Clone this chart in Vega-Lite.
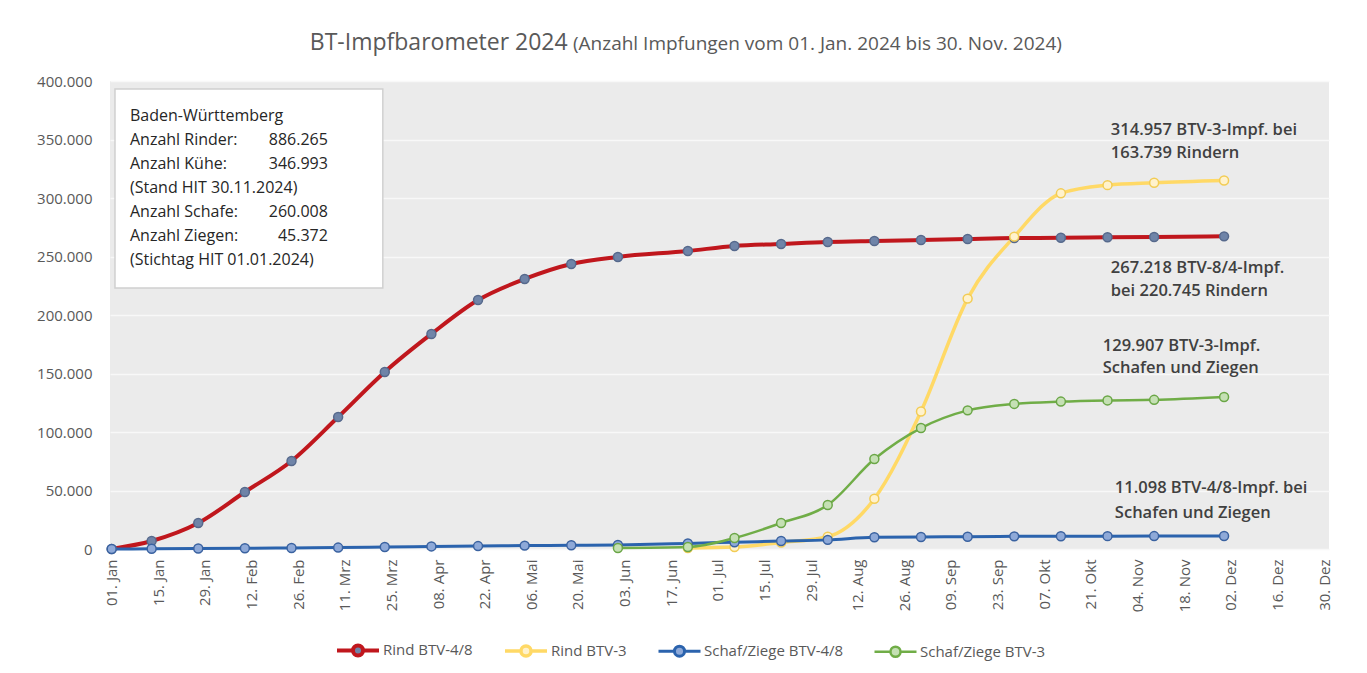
{
  "$schema": "https://vega.github.io/schema/vega-lite/v6.json",
  "width": 1219,
  "height": 468,
  "autosize": {"type": "none"},
  "padding": {"left": 110, "top": 81, "right": 38, "bottom": 124},
  "background": "white",
  "config": {
    "view": {"fill": "#ebebeb", "stroke": null},
    "font": "Open Sans"
  },
  "datasets": {
    "series": [
      {"series": "Rind BTV-4/8", "date": "2024-01-01", "value": 0},
      {"series": "Rind BTV-4/8", "date": "2024-01-13", "value": 6800},
      {"series": "Rind BTV-4/8", "date": "2024-01-27", "value": 22200},
      {"series": "Rind BTV-4/8", "date": "2024-02-10", "value": 48700},
      {"series": "Rind BTV-4/8", "date": "2024-02-24", "value": 75200},
      {"series": "Rind BTV-4/8", "date": "2024-03-09", "value": 112800},
      {"series": "Rind BTV-4/8", "date": "2024-03-23", "value": 151300},
      {"series": "Rind BTV-4/8", "date": "2024-04-06", "value": 183800},
      {"series": "Rind BTV-4/8", "date": "2024-04-20", "value": 212800},
      {"series": "Rind BTV-4/8", "date": "2024-05-04", "value": 230800},
      {"series": "Rind BTV-4/8", "date": "2024-05-18", "value": 243600},
      {"series": "Rind BTV-4/8", "date": "2024-06-01", "value": 249600},
      {"series": "Rind BTV-4/8", "date": "2024-06-22", "value": 254700},
      {"series": "Rind BTV-4/8", "date": "2024-07-06", "value": 259000},
      {"series": "Rind BTV-4/8", "date": "2024-07-20", "value": 260700},
      {"series": "Rind BTV-4/8", "date": "2024-08-03", "value": 262400},
      {"series": "Rind BTV-4/8", "date": "2024-08-17", "value": 263300},
      {"series": "Rind BTV-4/8", "date": "2024-08-31", "value": 264100},
      {"series": "Rind BTV-4/8", "date": "2024-09-14", "value": 265000},
      {"series": "Rind BTV-4/8", "date": "2024-09-28", "value": 265800},
      {"series": "Rind BTV-4/8", "date": "2024-10-12", "value": 266000},
      {"series": "Rind BTV-4/8", "date": "2024-10-26", "value": 266500},
      {"series": "Rind BTV-4/8", "date": "2024-11-09", "value": 266700},
      {"series": "Rind BTV-4/8", "date": "2024-11-30", "value": 267218},
      {"series": "Rind BTV-3", "date": "2024-06-22", "value": 800},
      {"series": "Rind BTV-3", "date": "2024-07-06", "value": 1700},
      {"series": "Rind BTV-3", "date": "2024-07-20", "value": 5500},
      {"series": "Rind BTV-3", "date": "2024-08-03", "value": 10500},
      {"series": "Rind BTV-3", "date": "2024-08-17", "value": 43000},
      {"series": "Rind BTV-3", "date": "2024-08-31", "value": 117500},
      {"series": "Rind BTV-3", "date": "2024-09-14", "value": 214000},
      {"series": "Rind BTV-3", "date": "2024-09-28", "value": 267000},
      {"series": "Rind BTV-3", "date": "2024-10-12", "value": 304000},
      {"series": "Rind BTV-3", "date": "2024-10-26", "value": 311000},
      {"series": "Rind BTV-3", "date": "2024-11-09", "value": 313000},
      {"series": "Rind BTV-3", "date": "2024-11-30", "value": 314957},
      {"series": "Schaf/Ziege BTV-4/8", "date": "2024-01-01", "value": 0},
      {"series": "Schaf/Ziege BTV-4/8", "date": "2024-01-13", "value": 200},
      {"series": "Schaf/Ziege BTV-4/8", "date": "2024-01-27", "value": 400},
      {"series": "Schaf/Ziege BTV-4/8", "date": "2024-02-10", "value": 600},
      {"series": "Schaf/Ziege BTV-4/8", "date": "2024-02-24", "value": 900},
      {"series": "Schaf/Ziege BTV-4/8", "date": "2024-03-09", "value": 1200},
      {"series": "Schaf/Ziege BTV-4/8", "date": "2024-03-23", "value": 1700},
      {"series": "Schaf/Ziege BTV-4/8", "date": "2024-04-06", "value": 2200},
      {"series": "Schaf/Ziege BTV-4/8", "date": "2024-04-20", "value": 2500},
      {"series": "Schaf/Ziege BTV-4/8", "date": "2024-05-04", "value": 2900},
      {"series": "Schaf/Ziege BTV-4/8", "date": "2024-05-18", "value": 3200},
      {"series": "Schaf/Ziege BTV-4/8", "date": "2024-06-01", "value": 3500},
      {"series": "Schaf/Ziege BTV-4/8", "date": "2024-06-22", "value": 4800},
      {"series": "Schaf/Ziege BTV-4/8", "date": "2024-07-06", "value": 5800},
      {"series": "Schaf/Ziege BTV-4/8", "date": "2024-07-20", "value": 6800},
      {"series": "Schaf/Ziege BTV-4/8", "date": "2024-08-03", "value": 7800},
      {"series": "Schaf/Ziege BTV-4/8", "date": "2024-08-17", "value": 10000},
      {"series": "Schaf/Ziege BTV-4/8", "date": "2024-08-31", "value": 10300},
      {"series": "Schaf/Ziege BTV-4/8", "date": "2024-09-14", "value": 10500},
      {"series": "Schaf/Ziege BTV-4/8", "date": "2024-09-28", "value": 10800},
      {"series": "Schaf/Ziege BTV-4/8", "date": "2024-10-12", "value": 10900},
      {"series": "Schaf/Ziege BTV-4/8", "date": "2024-10-26", "value": 11000},
      {"series": "Schaf/Ziege BTV-4/8", "date": "2024-11-09", "value": 11050},
      {"series": "Schaf/Ziege BTV-4/8", "date": "2024-11-30", "value": 11098},
      {"series": "Schaf/Ziege BTV-3", "date": "2024-06-01", "value": 900},
      {"series": "Schaf/Ziege BTV-3", "date": "2024-06-22", "value": 1700},
      {"series": "Schaf/Ziege BTV-3", "date": "2024-07-06", "value": 9400},
      {"series": "Schaf/Ziege BTV-3", "date": "2024-07-20", "value": 22200},
      {"series": "Schaf/Ziege BTV-3", "date": "2024-08-03", "value": 37600},
      {"series": "Schaf/Ziege BTV-3", "date": "2024-08-17", "value": 76900},
      {"series": "Schaf/Ziege BTV-3", "date": "2024-08-31", "value": 103400},
      {"series": "Schaf/Ziege BTV-3", "date": "2024-09-14", "value": 118500},
      {"series": "Schaf/Ziege BTV-3", "date": "2024-09-28", "value": 124000},
      {"series": "Schaf/Ziege BTV-3", "date": "2024-10-12", "value": 126000},
      {"series": "Schaf/Ziege BTV-3", "date": "2024-10-26", "value": 127000},
      {"series": "Schaf/Ziege BTV-3", "date": "2024-11-09", "value": 127500},
      {"series": "Schaf/Ziege BTV-3", "date": "2024-11-30", "value": 129907}
    ],
    "box": [
      {"date": "2024-01-02T00:00:00Z", "date2": "2024-03-22T10:00:00Z", "value": 223000, "value2": 393200}
    ],
    "boxLabels": [
      {"date": "2024-01-06T12:00:00Z", "value": 370100, "text": "Baden-Württemberg"},
      {"date": "2024-01-06T12:00:00Z", "value": 349600, "text": "Anzahl Rinder:"},
      {"date": "2024-01-06T12:00:00Z", "value": 329100, "text": "Anzahl Kühe:"},
      {"date": "2024-01-06T12:00:00Z", "value": 308500, "text": "(Stand HIT 30.11.2024)"},
      {"date": "2024-01-06T12:00:00Z", "value": 288000, "text": "Anzahl Schafe:"},
      {"date": "2024-01-06T12:00:00Z", "value": 267500, "text": "Anzahl Ziegen:"},
      {"date": "2024-01-06T12:00:00Z", "value": 247000, "text": "(Stichtag HIT 01.01.2024)"}
    ],
    "boxValues": [
      {"date": "2024-03-05T22:00:00Z", "value": 349600, "text": "886.265"},
      {"date": "2024-03-05T22:00:00Z", "value": 329100, "text": "346.993"},
      {"date": "2024-03-05T22:00:00Z", "value": 288000, "text": "260.008"},
      {"date": "2024-03-05T22:00:00Z", "value": 267500, "text": "45.372"}
    ],
    "notes": [
      {"date": "2024-10-27T00:00:00Z", "value": 358100, "text": "314.957 BTV-3-Impf. bei"},
      {"date": "2024-10-27T00:00:00Z", "value": 338500, "text": "163.739 Rindern"},
      {"date": "2024-10-27T00:00:00Z", "value": 240200, "text": "267.218 BTV-8/4-Impf."},
      {"date": "2024-10-27T00:00:00Z", "value": 220500, "text": "bei 220.745 Rindern"},
      {"date": "2024-10-24T14:00:00Z", "value": 173100, "text": "129.907 BTV-3-Impf."},
      {"date": "2024-10-24T14:00:00Z", "value": 154700, "text": "Schafen und Ziegen"},
      {"date": "2024-10-28T05:00:00Z", "value": 52100, "text": "11.098 BTV-4/8-Impf. bei"},
      {"date": "2024-10-28T05:00:00Z", "value": 30800, "text": "Schafen und Ziegen"}
    ],
    "titleMain": [
      {"date": "2024-02-29T12:00:00Z", "value": 426500, "text": "BT-Impfbarometer 2024"}
    ],
    "titleSub": [
      {"date": "2024-05-18T12:00:00Z", "value": 426500, "text": "(Anzahl Impfungen vom 01. Jan. 2024 bis 30. Nov. 2024)"}
    ]
  },
  "layer": [
    {
      "data": {"name": "series"},
      "mark": {"type": "line", "interpolate": "monotone"},
      "encoding": {
        "x": {
          "field": "date", "type": "temporal", "title": null,
          "scale": {"type": "utc", "domain": [{"year": 2023, "month": 12, "date": 31, "hours": 12, "utc": true}, {"year": 2024, "month": 12, "date": 31, "hours": 12, "utc": true}], "nice": false},
          "axis": {
            "values": [
              {"year": 2024, "month": 1, "date": 1, "utc": true},
              {"year": 2024, "month": 1, "date": 15, "utc": true},
              {"year": 2024, "month": 1, "date": 29, "utc": true},
              {"year": 2024, "month": 2, "date": 12, "utc": true},
              {"year": 2024, "month": 2, "date": 26, "utc": true},
              {"year": 2024, "month": 3, "date": 11, "utc": true},
              {"year": 2024, "month": 3, "date": 25, "utc": true},
              {"year": 2024, "month": 4, "date": 8, "utc": true},
              {"year": 2024, "month": 4, "date": 22, "utc": true},
              {"year": 2024, "month": 5, "date": 6, "utc": true},
              {"year": 2024, "month": 5, "date": 20, "utc": true},
              {"year": 2024, "month": 6, "date": 3, "utc": true},
              {"year": 2024, "month": 6, "date": 17, "utc": true},
              {"year": 2024, "month": 7, "date": 1, "utc": true},
              {"year": 2024, "month": 7, "date": 15, "utc": true},
              {"year": 2024, "month": 7, "date": 29, "utc": true},
              {"year": 2024, "month": 8, "date": 12, "utc": true},
              {"year": 2024, "month": 8, "date": 26, "utc": true},
              {"year": 2024, "month": 9, "date": 9, "utc": true},
              {"year": 2024, "month": 9, "date": 23, "utc": true},
              {"year": 2024, "month": 10, "date": 7, "utc": true},
              {"year": 2024, "month": 10, "date": 21, "utc": true},
              {"year": 2024, "month": 11, "date": 4, "utc": true},
              {"year": 2024, "month": 11, "date": 18, "utc": true},
              {"year": 2024, "month": 12, "date": 2, "utc": true},
              {"year": 2024, "month": 12, "date": 16, "utc": true},
              {"year": 2024, "month": 12, "date": 30, "utc": true}
            ],
            "labelExpr": "utcFormat(datum.value, '%d') + '. ' + ['Jan','Feb','Mrz','Apr','Mai','Jun','Jul','Aug','Sep','Okt','Nov','Dez'][utcmonth(datum.value)]",
            "labelAngle": -90,
            "labelFontSize": 15,
            "labelColor": "#595959",
            "labelPadding": 10,
            "ticks": false,
            "domain": false,
            "grid": false,
            "labelOverlap": false,
            "labelBound": false,
            "labelFlush": false
          }
        },
        "y": {
          "field": "value", "type": "quantitative", "title": null,
          "scale": {"domain": [0, 400000], "nice": false, "zero": true},
          "axis": {
            "values": [0, 50000, 100000, 150000, 200000, 250000, 300000, 350000, 400000],
            "labelExpr": "replace(format(datum.value, ','), ',', '.')",
            "labelFontSize": 15,
            "labelColor": "#595959",
            "labelPadding": 18,
            "ticks": false,
            "domain": false,
            "grid": true,
            "gridColor": "#f8f8f8",
            "gridWidth": 1.5
          }
        },
        "color": {
          "field": "series", "type": "nominal",
          "scale": {
            "domain": ["Rind BTV-4/8", "Rind BTV-3", "Schaf/Ziege BTV-4/8", "Schaf/Ziege BTV-3"],
            "range": ["#c0171d", "#ffd966", "#2b63ad", "#70ad47"]
          },
          "legend": {
            "title": null,
            "orient": "none",
            "legendX": 225,
            "legendY": 546,
            "direction": "horizontal",
            "labelFontSize": 15,
            "labelColor": "#595959",
            "labelFont": "Open Sans",
            "labelOffset": 2,
            "columnPadding": 25,
            "symbolType": "M-1,0H-0.24M0.24,0H1M-0.24,0A0.24,0.24 0 1,0 0.24,0A0.24,0.24 0 1,0 -0.24,0Z",
            "symbolSize": 1764,
            "symbolStrokeWidth": 3.5,
            "encode": {
              "symbols": {
                "update": {
                  "fill": {"signal": "datum.value === 'Rind BTV-4/8' ? '#6f84a8' : datum.value === 'Rind BTV-3' ? '#fff2cc' : datum.value === 'Schaf/Ziege BTV-4/8' ? '#8ea9d8' : '#c5e0b4'"},
                  "fillOpacity": {"value": 1}
                }
              }
            }
          }
        },
        "strokeWidth": {
          "field": "series", "type": "nominal",
          "scale": {
            "domain": ["Rind BTV-4/8", "Rind BTV-3", "Schaf/Ziege BTV-4/8", "Schaf/Ziege BTV-3"],
            "range": [4, 2.5, 4, 3]
          },
          "legend": null
        }
      }
    },
    {
      "data": {"name": "series"},
      "mark": {"type": "circle", "size": 80, "strokeWidth": 1.5, "opacity": 1},
      "encoding": {
        "x": {"field": "date", "type": "temporal", "title": null},
        "y": {"field": "value", "type": "quantitative", "title": null},
        "fill": {
          "field": "series", "type": "nominal",
          "scale": {
            "domain": ["Rind BTV-4/8", "Rind BTV-3", "Schaf/Ziege BTV-4/8", "Schaf/Ziege BTV-3"],
            "range": ["#6f84a8", "#fff2cc", "#8ea9d8", "#c5e0b4"]
          },
          "legend": null
        },
        "stroke": {
          "field": "series", "type": "nominal",
          "scale": {
            "domain": ["Rind BTV-4/8", "Rind BTV-3", "Schaf/Ziege BTV-4/8", "Schaf/Ziege BTV-3"],
            "range": ["#56698c", "#f2cc55", "#3a62a0", "#6aa646"]
          },
          "legend": null
        }
      }
    },
    {
      "data": {"name": "box"},
      "mark": {"type": "rect", "fill": "white", "stroke": "#d0d0d0", "strokeWidth": 1.5},
      "encoding": {
        "x": {"field": "date", "type": "temporal", "title": null},
        "x2": {"field": "date2"},
        "y": {"field": "value", "type": "quantitative", "title": null},
        "y2": {"field": "value2"}
      }
    },
    {
      "data": {"name": "boxLabels"},
      "mark": {"type": "text", "align": "left", "baseline": "middle", "fontSize": 16, "color": "#262626", "font": "Open Sans"},
      "encoding": {
        "x": {"field": "date", "type": "temporal", "title": null},
        "y": {"field": "value", "type": "quantitative", "title": null},
        "text": {"field": "text"}
      }
    },
    {
      "data": {"name": "boxValues"},
      "mark": {"type": "text", "align": "right", "baseline": "middle", "fontSize": 16, "color": "#262626", "font": "Open Sans"},
      "encoding": {
        "x": {"field": "date", "type": "temporal", "title": null},
        "y": {"field": "value", "type": "quantitative", "title": null},
        "text": {"field": "text"}
      }
    },
    {
      "data": {"name": "notes"},
      "mark": {"type": "text", "align": "left", "baseline": "middle", "fontSize": 16.5, "fontWeight": 600, "color": "#404040", "font": "Open Sans"},
      "encoding": {
        "x": {"field": "date", "type": "temporal", "title": null},
        "y": {"field": "value", "type": "quantitative", "title": null},
        "text": {"field": "text"}
      }
    },
    {
      "data": {"name": "titleMain"},
      "mark": {"type": "text", "align": "left", "baseline": "alphabetic", "fontSize": 23, "color": "#595959", "font": "Open Sans"},
      "encoding": {
        "x": {"field": "date", "type": "temporal", "title": null},
        "y": {"field": "value", "type": "quantitative", "title": null},
        "text": {"field": "text"}
      }
    },
    {
      "data": {"name": "titleSub"},
      "mark": {"type": "text", "align": "left", "baseline": "alphabetic", "fontSize": 19, "color": "#595959", "font": "Open Sans"},
      "encoding": {
        "x": {"field": "date", "type": "temporal", "title": null},
        "y": {"field": "value", "type": "quantitative", "title": null},
        "text": {"field": "text"}
      }
    }
  ]
}
